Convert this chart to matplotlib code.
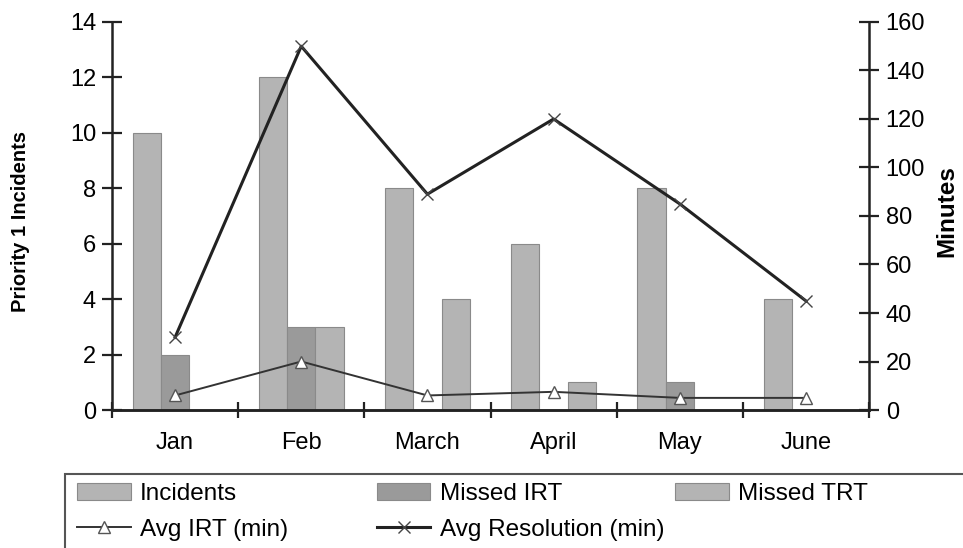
import matplotlib.pyplot as plt
import numpy as np
from matplotlib.patches import Rectangle


months = ["Jan", "Feb", "March", "April", "May", "June"]
incidents = [10, 12, 8, 6, 8, 4]
missed_irt = [2, 3, 0, 0, 1, 0]
missed_trt = [0, 3, 4, 1, 0, 0]
avg_irt = [6, 20, 6, 7.5, 5, 5]
avg_resolution = [30, 150, 89, 120, 85, 45]


def main():
    plt.rcParams["font.family"] = ["Liberation Sans", "DejaVu Sans"]

    fig = plt.figure(figsize=(9.63, 5.48), dpi=100)
    ax = fig.add_axes([0.1163, 0.2518, 0.7861, 0.7081])
    ax2 = ax.twinx()

    x = np.arange(len(months))
    width = 0.224
    edge = "#8a8a8a"

    b1 = ax.bar(x - width, incidents, width, color="#b4b4b4",
                edgecolor=edge, linewidth=0.8, label="Incidents")
    b2 = ax.bar(x, missed_irt, width, color="#9a9a9a",
                edgecolor=edge, linewidth=0.8, label="Missed IRT")
    b3 = ax.bar(x + width, missed_trt, width, color="#b4b4b4",
                edgecolor=edge, linewidth=0.8, label="Missed TRT")

    l1, = ax2.plot(x, avg_irt, color="#333333", linewidth=1.4,
                   marker="^", markersize=8, markerfacecolor="white",
                   markeredgecolor="#555555", markeredgewidth=1,
                   label="Avg IRT (min)")
    l2, = ax2.plot(x, avg_resolution, color="#222222", linewidth=2.2,
                   marker="x", markersize=9, markeredgecolor="#444444",
                   markeredgewidth=1, label="Avg Resolution (min)")

    ax.set_xlim(-0.5, 5.5)
    ax.set_ylim(0, 14)
    ax2.set_ylim(0, 160)
    ax.set_yticks(range(0, 15, 2))
    ax2.set_yticks(range(0, 161, 20))

    ax.set_xticks(np.arange(-0.5, 6, 1))
    ax.set_xticklabels([])
    ax.set_xticks(x, minor=True)
    ax.set_xticklabels(months, minor=True)
    ax.tick_params(axis="x", which="major", direction="inout",
                   length=12, width=1.6, color="#222222")
    ax.tick_params(axis="x", which="minor", length=0, pad=16,
                   labelsize=17)

    ax.tick_params(axis="y", direction="inout", length=14, width=1.6,
                   color="#222222", labelsize=17, pad=4.5)
    ax2.tick_params(axis="y", direction="inout", length=14, width=1.6,
                    color="#222222", labelsize=17, pad=5)

    for a in (ax, ax2):
        a.spines["top"].set_visible(False)
        for s in ("left", "right", "bottom"):
            a.spines[s].set_linewidth(1.8)
            a.spines[s].set_color("#222222")
    ax.spines["right"].set_visible(False)
    ax2.spines["left"].set_visible(False)

    ax.set_ylabel("Priority 1 Incidents", fontsize=14.5, fontweight="bold")
    ax.yaxis.set_label_coords(-0.108, 0.487)
    ax2.set_ylabel("Minutes", fontsize=17.5, fontweight="bold")
    ax2.yaxis.set_label_coords(1.0872, 0.513)

    ax.set_zorder(ax2.get_zorder() - 1)
    ax2.patch.set_visible(False)

    legend_kw = dict(loc="upper left", frameon=False, fontsize=17.5,
                     handlelength=2.2, handletextpad=0.4,
                     labelspacing=0.55, borderaxespad=0, borderpad=0)
    fig.legend([b1, l1], ["Incidents", "Avg IRT (min)"],
               bbox_to_anchor=(0.080, 0.118), **legend_kw)
    fig.legend([b2, l2], ["Missed IRT", "Avg Resolution (min)"],
               bbox_to_anchor=(0.3915, 0.118), **legend_kw)
    fig.legend([b3], ["Missed TRT"],
               bbox_to_anchor=(0.701, 0.118), **legend_kw)

    fig.add_artist(Rectangle((65 / 963, -0.1), 1.0, 0.1 + 74 / 548,
                             transform=fig.transFigure, fill=False,
                             edgecolor="#555555", linewidth=1.5))

    fig.savefig("out.png", dpi=100)
    plt.close(fig)


if __name__ == "__main__":
    main()
